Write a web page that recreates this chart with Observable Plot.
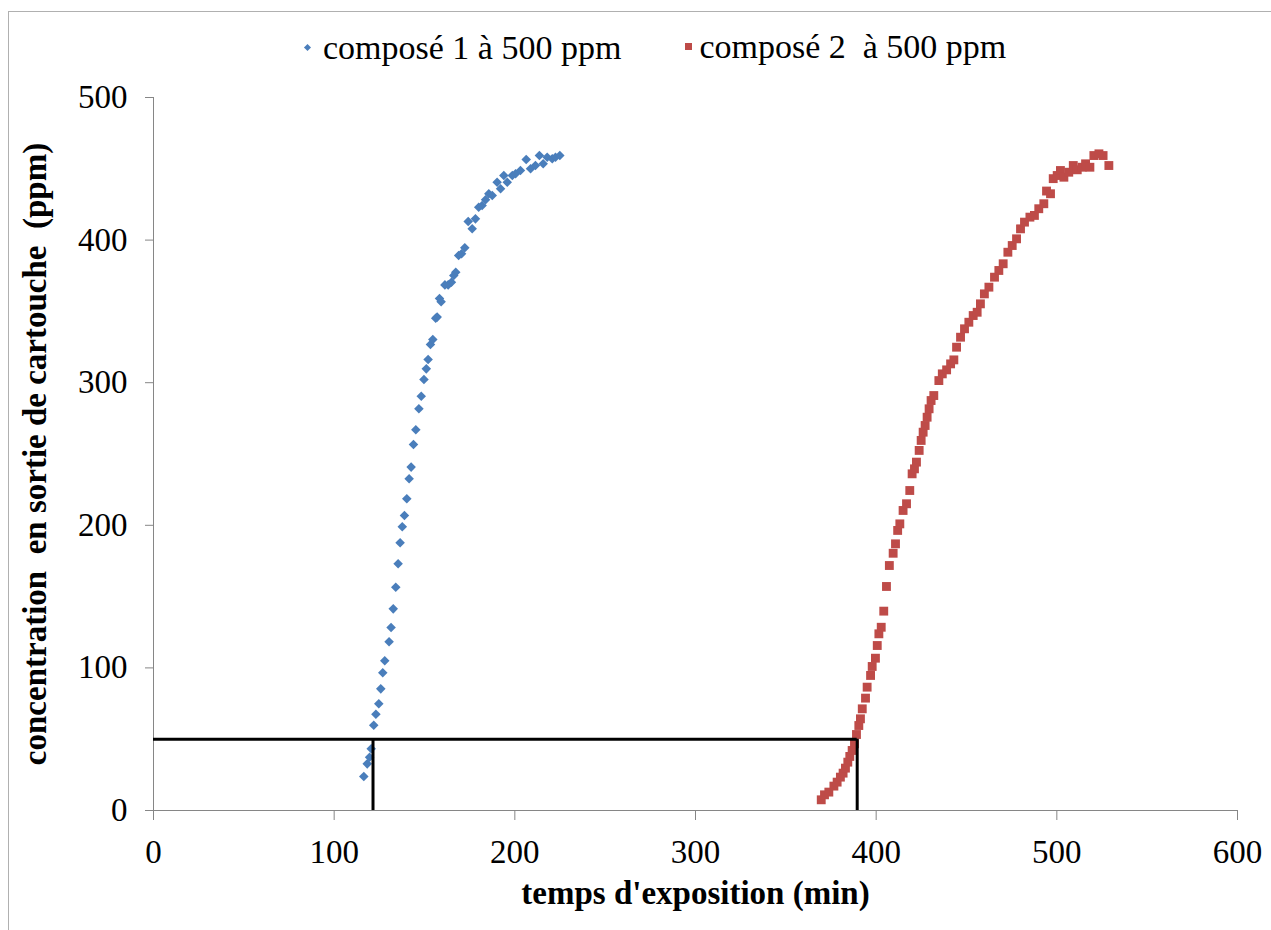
<!DOCTYPE html>
<html>
<head>
<meta charset="utf-8">
<script src="https://cdn.jsdelivr.net/npm/d3@7"></script>
<script src="https://cdn.jsdelivr.net/npm/@observablehq/plot@0.6"></script>
<style>
  html, body { margin: 0; padding: 0; background: #fff; overflow: hidden; }
  #wrap { position: relative; width: 1271px; height: 930px; font-family: "Liberation Serif", "Times New Roman", serif; }
  #frame { position: absolute; left: 8px; top: 11px; width: 1300px; height: 960px; border: 1px solid #b0b0b0; box-sizing: border-box; pointer-events: none; }
  #legend { position: absolute; left: 305px; top: 19px; font-size: 34px; line-height: 40px; white-space: pre; color: #000; }
  #legend .item { display: inline-flex; align-items: center; }
  #legend .mk { display: inline-block; }
  #chart { position: absolute; left: 0; top: 0; }
</style>
</head>
<body>
<div id="wrap">
  <div id="frame"></div>
  <div id="chart"></div>
  <div id="legend"></div>
</div>
<script>
// ---- data ----
const seriesNames = ["composé 1 à 500 ppm", "composé 2  à 500 ppm"];
const seriesColors = ["#4a7ebb", "#be4b48"];

const time1 = [116.4, 118.3, 119.6, 120.5, 121.9, 123.1, 124.7, 125.8, 126.9, 128.0, 130.4, 131.5, 132.7, 134.1, 135.4, 136.5, 137.7, 138.9, 140.2, 141.5, 142.6, 143.9, 145.2, 146.9, 148.2, 149.7, 151.0, 152.0, 153.3, 154.6, 156.2, 157.0, 158.3, 159.2, 161.3, 163.1, 164.9, 166.2, 167.3, 168.9, 170.5, 172.3, 174.2, 176.4, 178.2, 180.0, 181.9, 183.8, 185.6, 187.5, 190.2, 192.1, 193.9, 195.8, 198.6, 200.4, 203.1, 206.3, 208.7, 211.4, 213.6, 215.7, 217.9, 220.7, 222.5, 224.9];
const conc1 = [23.8, 32.7, 37.4, 43.3, 59.8, 67.5, 74.8, 85.3, 96.6, 105.0, 118.3, 128.3, 141.4, 156.6, 173.0, 187.7, 199.0, 206.9, 218.6, 232.6, 240.8, 256.7, 267.0, 281.7, 290.5, 302.2, 309.7, 316.3, 326.8, 330.3, 345.2, 346.0, 359.0, 356.7, 368.6, 368.6, 370.5, 375.2, 377.5, 389.2, 390.4, 394.6, 413.0, 407.9, 414.9, 423.1, 424.3, 428.3, 432.5, 431.3, 440.6, 436.0, 445.3, 440.6, 445.3, 446.5, 448.8, 456.5, 450.0, 452.3, 459.3, 453.5, 458.1, 457.0, 458.1, 459.3];

const time2 = [369.6, 371.4, 373.8, 376.6, 378.4, 380.2, 381.7, 383.0, 384.3, 385.4, 386.7, 388.0, 389.1, 390.4, 391.3, 392.3, 394.1, 395.0, 396.9, 397.8, 399.6, 400.6, 401.5, 402.8, 404.2, 405.7, 407.3, 409.4, 410.7, 411.9, 413.1, 414.9, 416.8, 418.6, 419.9, 421.2, 422.3, 423.8, 424.9, 426.0, 427.1, 428.2, 429.3, 430.4, 431.9, 434.7, 436.6, 439.0, 441.2, 443.0, 444.5, 446.7, 448.9, 451.3, 453.7, 455.9, 457.7, 459.9, 462.4, 465.5, 467.9, 470.3, 472.9, 475.3, 477.7, 479.9, 482.1, 485.1, 487.6, 490.0, 492.8, 494.3, 496.5, 498.0, 500.2, 502.0, 503.9, 506.6, 509.1, 511.3, 514.0, 515.9, 518.3, 520.5, 523.3, 525.6, 528.8];
const conc2 = [7.5, 11.0, 12.9, 17.1, 19.9, 23.4, 26.2, 29.7, 33.9, 37.9, 42.1, 46.8, 53.3, 59.6, 64.3, 71.3, 78.8, 86.5, 94.7, 101.0, 106.8, 115.7, 123.9, 128.5, 139.8, 157.1, 171.8, 180.4, 187.0, 196.4, 201.0, 210.4, 215.1, 224.4, 236.1, 239.6, 244.3, 252.5, 259.5, 265.3, 270.0, 275.8, 281.7, 287.5, 291.0, 301.5, 306.2, 309.0, 313.2, 316.0, 324.9, 331.9, 337.8, 342.4, 347.1, 349.4, 355.3, 362.3, 367.0, 374.0, 378.7, 383.4, 391.5, 396.2, 400.9, 407.9, 412.6, 416.1, 417.3, 422.0, 425.5, 434.4, 432.5, 443.1, 445.3, 448.8, 444.1, 447.6, 452.3, 449.3, 451.1, 453.5, 451.1, 459.3, 460.5, 459.3, 452.3];

// threshold construction (breakthrough at 50 ppm)
const thresholdConc = [50];
const breakthroughTimes = [121.5, 389.5];

const xTicks = [0, 100, 200, 300, 400, 500, 600];
const yTicks = [0, 100, 200, 300, 400, 500];
const xTitle = "temps d'exposition (min)";
const yTitle = "concentration  en sortie de cartouche  (ppm)";

// ---- build ----
const s1 = time1.map((t, i) => ({t, c: conc1[i]}));
const s2 = time2.map((t, i) => ({t, c: conc2[i]}));

const chart = Plot.plot({
  width: 1271,
  height: 930,
  marginLeft: 153,
  marginRight: 34,
  marginTop: 97,
  marginBottom: 120,
  style: {fontFamily: "'Liberation Serif', 'Times New Roman', serif", fontSize: "33px", background: "transparent", overflow: "visible"},
  x: {domain: [0, 600], ticks: xTicks},
  y: {domain: [0, 500], ticks: yTicks},
  marks: [
    Plot.axisX({ticks: xTicks, tickSize: 10, tickPadding: 19, stroke: "#868686", label: null, fill: "#000"}),
    Plot.axisY({ticks: yTicks, tickSize: 8, tickPadding: 18, stroke: "#868686", label: null, fill: "#000"}),
    Plot.ruleY([0], {stroke: "#868686", strokeWidth: 1}),
    Plot.ruleX([0], {stroke: "#868686", strokeWidth: 1}),
    Plot.dot(s1, {x: "t", y: "c", symbol: "diamond2", r: 4.3, fill: seriesColors[0], stroke: "none"}),
    Plot.dot(s2, {x: "t", y: "c", symbol: "square", r: 5, fill: seriesColors[1], stroke: "none"}),
    Plot.ruleY(thresholdConc, {x1: 0, x2: breakthroughTimes[1], stroke: "#000", strokeWidth: 3}),
    Plot.ruleX(breakthroughTimes, {y1: 0, y2: thresholdConc[0], stroke: "#000", strokeWidth: 3}),
    Plot.text([xTitle], {frameAnchor: "bottom", dy: 83, text: d => d, fontWeight: "bold", fontSize: 33, fill: "#000", lineAnchor: "middle"}),
    Plot.text([yTitle], {frameAnchor: "left", dx: -118, rotate: -90, text: d => d, fontWeight: "bold", fontSize: 33, fill: "#000", lineAnchor: "middle", textAnchor: "middle"})
  ]
});
document.getElementById("chart").appendChild(chart);

// ---- legend ----
const legend = document.getElementById("legend");
seriesNames.forEach((name, i) => {
  const item = document.createElement("span");
  item.className = "item";
  const mk = document.createElement("span");
  mk.className = "mk";
  if (i === 0) {
    mk.style.width = "5px"; mk.style.height = "5px"; mk.style.transform = "rotate(45deg)";
    mk.style.marginRight = "13px";
  } else {
    item.style.marginLeft = "64px";
    mk.style.width = "7px"; mk.style.height = "7px";
    mk.style.marginRight = "7px";
  }
  mk.style.background = seriesColors[i];
  const tx = document.createElement("span");
  tx.textContent = name;
  item.appendChild(mk);
  item.appendChild(tx);
  legend.appendChild(item);
});
</script>
</body>
</html>
